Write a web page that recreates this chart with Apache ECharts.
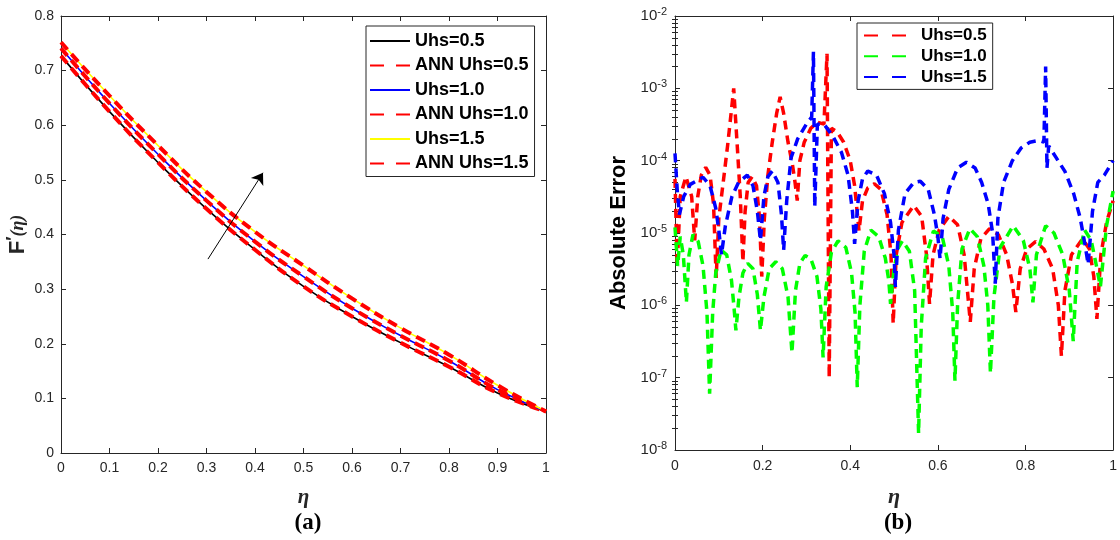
<!DOCTYPE html>
<html>
<head>
<meta charset="utf-8">
<script src="https://cdn.jsdelivr.net/npm/echarts@6/dist/echarts.min.js"></script>
<style>
html,body{margin:0;padding:0;background:#fff;}
#chart{width:1120px;height:540px;}
</style>
</head>
<body>
<div id="chart"></div>
<script>
// ---------- Panel (a): F'(eta) ----------
const etaA = [0, 0.1, 0.2, 0.3, 0.4, 0.5, 0.6, 0.7, 0.8, 0.9, 1.0];
const fUhs05 = [0.727, 0.625, 0.532, 0.447, 0.372, 0.305, 0.250, 0.202, 0.158, 0.110, 0.076];
const annUhs05 = [0.727, 0.625, 0.532, 0.447, 0.372, 0.305, 0.250, 0.202, 0.158, 0.110, 0.076];
const fUhs10 = [0.741, 0.640, 0.547, 0.462, 0.387, 0.323, 0.265, 0.215, 0.169, 0.116, 0.076];
const annUhs10 = [0.741, 0.640, 0.547, 0.462, 0.387, 0.323, 0.265, 0.215, 0.169, 0.116, 0.076];
const fUhs15 = [0.752, 0.654, 0.563, 0.478, 0.405, 0.343, 0.283, 0.229, 0.180, 0.124, 0.076];
const annUhs15 = [0.752, 0.654, 0.563, 0.478, 0.405, 0.343, 0.283, 0.229, 0.180, 0.124, 0.076];
const arrowFrom = [0.303, 0.355];
const arrowTo = [0.4165, 0.513];

// ---------- Panel (b): absolute error ----------
const etaRed = [0, 0.005, 0.012, 0.025, 0.038, 0.045, 0.052, 0.06, 0.07, 0.08, 0.088, 0.094,
  0.1, 0.11, 0.12, 0.128, 0.134, 0.138, 0.143, 0.149, 0.155,
  0.16, 0.167, 0.176, 0.186, 0.193, 0.198,
  0.204, 0.212, 0.222, 0.232, 0.24, 0.248, 0.258, 0.268, 0.274, 0.279,
  0.285, 0.295, 0.31, 0.325, 0.34, 0.347, 0.352, 0.357, 0.37, 0.385, 0.4, 0.41, 0.42,
  0.428, 0.44, 0.455, 0.47, 0.484, 0.493, 0.498,
  0.505, 0.518, 0.545, 0.563, 0.574, 0.581,
  0.589, 0.603, 0.625, 0.645, 0.66, 0.674,
  0.683, 0.698, 0.718, 0.738, 0.757, 0.77, 0.778,
  0.788, 0.803, 0.823, 0.842, 0.862, 0.875, 0.882,
  0.89, 0.905, 0.93, 0.946, 0.956, 0.963,
  0.972, 0.985, 1.0];
const errRed = [5.6e-5, 3.5e-6, 3.2e-5, 6.0e-5, 3.2e-5, 7.9e-6, 3.2e-5, 6.3e-5, 8.1e-5, 6.3e-5, 2.5e-5, 2.4e-6,
  1.6e-5, 5.0e-5, 1.6e-4, 4.5e-4, 1.0e-3, 4.0e-4, 1.3e-4, 3.2e-5, 4.0e-6,
  2.0e-5, 5.0e-5, 6.0e-5, 4.5e-5, 1.6e-5, 2.5e-6,
  1.6e-5, 6.3e-5, 1.8e-4, 4.5e-4, 7.6e-4, 4.5e-4, 1.8e-4, 8.9e-5, 5.0e-5, 2.8e-5,
  1.0e-4, 1.8e-4, 2.8e-4, 3.4e-4, 3.2e-4, 3.0e-3, 1.0e-7, 2.8e-4, 2.5e-4, 1.8e-4, 1.0e-4, 4.5e-5, 1.07e-5,
  2.8e-5, 4.2e-5, 4.8e-5, 4.0e-5, 1.8e-5, 5.0e-6, 5.6e-7,
  5.0e-6, 1.4e-5, 2.4e-5, 1.7e-5, 5.0e-6, 1.05e-6,
  5.0e-6, 1.1e-5, 1.7e-5, 1.3e-5, 5.0e-6, 5.9e-7,
  3.2e-6, 8.3e-6, 1.15e-5, 9.5e-6, 5.0e-6, 2.0e-6, 8.1e-7,
  3.2e-6, 6.0e-6, 7.6e-6, 6.0e-6, 3.2e-6, 1.0e-6, 2.0e-7,
  1.6e-6, 5.0e-6, 8.3e-6, 6.0e-6, 2.5e-6, 6.5e-7,
  5.0e-6, 1.4e-5, 2.8e-5];

const etaGreen = [0, 0.006, 0.012, 0.019, 0.026, 0.032, 0.041, 0.053, 0.064, 0.073, 0.079,
  0.086, 0.093, 0.105, 0.118, 0.129, 0.135, 0.139,
  0.146, 0.155, 0.166, 0.178, 0.188, 0.195,
  0.203, 0.215, 0.23, 0.245, 0.258, 0.267,
  0.275, 0.285, 0.297, 0.31, 0.324, 0.333, 0.338,
  0.345, 0.357, 0.372, 0.39, 0.403, 0.411, 0.416,
  0.422, 0.432, 0.447, 0.465, 0.48, 0.488, 0.492,
  0.5, 0.51, 0.519, 0.535, 0.547, 0.556,
  0.562, 0.572, 0.59, 0.61, 0.625, 0.634, 0.639,
  0.645, 0.655, 0.673, 0.69, 0.705, 0.714, 0.72,
  0.728, 0.742, 0.772, 0.795, 0.81, 0.817,
  0.825, 0.846, 0.865, 0.885, 0.9, 0.909,
  0.918, 0.935, 0.95, 0.962, 0.971,
  0.985, 1.0];
const errGreen = [1.2e-5, 3.5e-6, 8.9e-6, 5.0e-6, 1.1e-6, 5.0e-6, 9.5e-6, 7.6e-6, 3.5e-6, 7.9e-7, 6.0e-8,
  7.9e-7, 2.8e-6, 5.8e-6, 5.0e-6, 2.2e-6, 8.9e-7, 4.5e-7,
  1.3e-6, 2.8e-6, 3.8e-6, 3.2e-6, 1.4e-6, 4.5e-7,
  1.3e-6, 3.2e-6, 4.0e-6, 3.2e-6, 1.3e-6, 2.2e-7,
  1.6e-6, 3.8e-6, 4.9e-6, 4.4e-6, 2.5e-6, 8.9e-7, 1.9e-7,
  1.8e-6, 5.4e-6, 7.8e-6, 6.3e-6, 2.8e-6, 7.9e-7, 7.4e-8,
  1.0e-6, 5.6e-6, 1.1e-5, 8.9e-6, 4.5e-6, 2.2e-6, 1.05e-6,
  3.2e-6, 6.3e-6, 7.8e-6, 5.6e-6, 1.6e-6, 1.7e-8,
  5.0e-7, 4.5e-6, 1.07e-5, 8.9e-6, 3.5e-6, 7.9e-7, 9.1e-8,
  1.0e-6, 6.0e-6, 1.15e-5, 8.9e-6, 3.5e-6, 1.0e-6, 1.15e-7,
  1.3e-6, 6.3e-6, 1.26e-5, 7.9e-6, 3.2e-6, 1.1e-6,
  5.0e-6, 1.26e-5, 1.0e-5, 5.0e-6, 1.6e-6, 3.2e-7,
  4.0e-6, 1.1e-5, 7.9e-6, 3.5e-6, 1.8e-6,
  1.26e-5, 3.8e-5];

const etaBlue = [0, 0.005, 0.01,
  0.02, 0.035, 0.064, 0.08, 0.093, 0.1, 0.106,
  0.115, 0.13, 0.145, 0.165, 0.178, 0.188, 0.195,
  0.203, 0.212, 0.222, 0.235, 0.243, 0.248,
  0.255, 0.265, 0.28, 0.3, 0.312, 0.316, 0.319, 0.325,
  0.34, 0.36, 0.38, 0.395, 0.405, 0.41,
  0.418, 0.428, 0.44, 0.46, 0.478, 0.492, 0.5, 0.503,
  0.51, 0.525, 0.545, 0.56, 0.578, 0.592, 0.6, 0.605,
  0.612, 0.625, 0.645, 0.665, 0.685, 0.7, 0.715, 0.725, 0.731,
  0.737, 0.75, 0.77, 0.79, 0.81, 0.83, 0.842, 0.846, 0.849, 0.853,
  0.87, 0.89, 0.91, 0.925, 0.937, 0.943,
  0.953, 0.965, 0.98, 1.0];
const errBlue = [1.26e-4, 4.0e-5, 1.8e-5,
  3.2e-5, 4.7e-5, 5.9e-5, 4.5e-5, 2.2e-5, 1.1e-5, 5.0e-6,
  1.26e-5, 3.2e-5, 5.0e-5, 6.3e-5, 4.5e-5, 2.0e-5, 7.9e-6,
  3.2e-5, 6.0e-5, 7.2e-5, 5.0e-5, 1.8e-5, 5.8e-6,
  2.8e-5, 1.1e-4, 2.0e-4, 3.2e-4, 4.0e-4, 3.2e-3, 2.3e-5, 3.2e-4,
  3.2e-4, 2.2e-4, 1.3e-4, 6.3e-5, 2.0e-5, 7.1e-6,
  2.8e-5, 5.6e-5, 7.2e-5, 6.3e-5, 3.5e-5, 1.4e-5, 5.0e-6, 1.8e-6,
  1.1e-5, 3.5e-5, 5.0e-5, 5.2e-5, 4.0e-5, 1.8e-5, 8.9e-6, 4.4e-6,
  1.6e-5, 4.0e-5, 7.9e-5, 9.5e-5, 7.9e-5, 5.0e-5, 2.5e-5, 1.0e-5, 2.0e-6,
  1.6e-5, 5.0e-5, 1.0e-4, 1.5e-4, 1.8e-4, 1.9e-4, 1.8e-4, 2.0e-3, 7.9e-5, 1.6e-4,
  1.1e-4, 7.1e-5, 3.5e-5, 1.6e-5, 6.3e-6, 3.7e-6,
  2.0e-5, 5.0e-5, 6.3e-5, 1.0e-4];

// ---------- helpers ----------
function pairs(xs, ys) { return xs.map((x, i) => [x, ys[i]]); }
const AX = '#262626';
const axisLine = { show: true, onZero: false, lineStyle: { color: AX, width: 1 } };
const tickIn = { show: true, inside: true, length: 5, lineStyle: { color: AX, width: 1 } };
const minorVals = [];
for (let e = -8; e < -2; e++) {
  for (let k = 2; k <= 9; k++) minorVals.push(k * Math.pow(10, e));
}

const chart = echarts.init(document.getElementById('chart'), null, { renderer: 'canvas' });

const option = {
  animation: false,
  backgroundColor: '#fff',
  grid: [
    { left: 61, right: 574, top: 16, bottom: 87 },
    { left: 675, right: 2, top: 16, bottom: 90 }
  ],
  xAxis: [
    { gridIndex: 0, type: 'value', min: 0, max: 1, interval: 0.1,
      axisLine: axisLine, axisTick: tickIn, splitLine: { show: false },
      axisLabel: { color: AX, fontSize: 14, fontFamily: 'Liberation Sans', margin: 8,
        formatter: v => String(+v.toFixed(1)) },
      name: 'η', nameLocation: 'middle', nameGap: 34,
      nameTextStyle: { fontFamily: 'Liberation Serif', fontStyle: 'italic', fontWeight: 'bold', fontSize: 21, color: AX } },
    { gridIndex: 0, type: 'value', min: 0, max: 1, interval: 0.1, position: 'top',
      axisLine: axisLine, axisTick: tickIn, axisLabel: { show: false }, splitLine: { show: false } },
    { gridIndex: 1, type: 'value', min: 0, max: 1, interval: 0.2,
      axisLine: axisLine, axisTick: tickIn, splitLine: { show: false },
      axisLabel: { color: AX, fontSize: 14, fontFamily: 'Liberation Sans', margin: 9,
        formatter: v => String(+v.toFixed(1)) },
      name: 'η', nameLocation: 'middle', nameGap: 36,
      nameTextStyle: { fontFamily: 'Liberation Serif', fontStyle: 'italic', fontWeight: 'bold', fontSize: 22, color: AX } },
    { gridIndex: 1, type: 'value', min: 0, max: 1, interval: 0.2, position: 'top',
      axisLine: axisLine, axisTick: tickIn, axisLabel: { show: false }, splitLine: { show: false } }
  ],
  yAxis: [
    { gridIndex: 0, type: 'value', min: 0, max: 0.8, interval: 0.1,
      axisLine: axisLine, axisTick: tickIn, splitLine: { show: false },
      axisLabel: { color: AX, fontSize: 14, fontFamily: 'Liberation Sans', margin: 7,
        formatter: v => String(+v.toFixed(1)) },
      name: '{f|F}{p|′}{e|(η)}', nameLocation: 'middle', nameGap: 30, nameRotate: 90,
      nameTextStyle: { color: AX, rich: {
        f: { fontFamily: 'Liberation Sans', fontWeight: 'bold', fontSize: 22, color: AX },
        p: { fontFamily: 'Liberation Sans', fontWeight: 'bold', fontSize: 18, color: AX, padding: [0, 0, 8, 0] },
        e: { fontFamily: 'Liberation Serif', fontStyle: 'italic', fontWeight: 'bold', fontSize: 18, color: AX }
      } } },
    { gridIndex: 0, type: 'value', min: 0, max: 0.8, interval: 0.1, position: 'right',
      axisLine: axisLine, axisTick: tickIn, axisLabel: { show: false }, splitLine: { show: false } },
    { gridIndex: 1, type: 'log', logBase: 10, min: 1e-8, max: 1e-2, interval: 1, splitNumber: 6,
      axisLine: axisLine, axisTick: tickIn, splitLine: { show: false },
      axisLabel: { margin: 8, color: AX,
        formatter: v => '{b|10}{s|' + Math.round(Math.log10(v)) + '}',
        rich: {
          b: { fontFamily: 'Liberation Sans', fontSize: 15, color: AX },
          s: { fontFamily: 'Liberation Sans', fontSize: 11, color: AX, padding: [0, 0, 8, 0] }
        } },
      name: 'Absolute Error', nameLocation: 'middle', nameGap: 45, nameRotate: 90,
      nameTextStyle: { fontFamily: 'Liberation Sans', fontWeight: 'bold', fontSize: 22, color: '#000' } },
    { gridIndex: 1, type: 'log', logBase: 10, min: 1e-8, max: 1e-2, interval: 1, splitNumber: 6, position: 'right',
      axisLine: axisLine, axisTick: tickIn, axisLabel: { show: false }, splitLine: { show: false } },
    { gridIndex: 1, type: 'log', logBase: 10, min: 1e-8, max: 1e-2, position: 'left',
      axisLine: { show: false }, axisLabel: { show: false }, splitLine: { show: false },
      axisTick: { show: true, inside: true, length: 3, customValues: minorVals, lineStyle: { color: AX, width: 1 } } },
    { gridIndex: 1, type: 'log', logBase: 10, min: 1e-8, max: 1e-2, position: 'right',
      axisLine: { show: false }, axisLabel: { show: false }, splitLine: { show: false },
      axisTick: { show: true, inside: true, length: 3, customValues: minorVals, lineStyle: { color: AX, width: 1 } } }
  ],
  legend: [
    { orient: 'vertical', left: 366, top: 26, padding: [6, 6, 4, 3],
      itemWidth: 40, itemHeight: 14, itemGap: 6.5, selectedMode: false,
      backgroundColor: '#fff', borderColor: AX, borderWidth: 1, borderRadius: 0,
      itemStyle: { opacity: 0 },
      textStyle: { fontFamily: 'Liberation Sans', fontWeight: 'bold', fontSize: 18, color: '#000', lineHeight: 18 },
      data: [
        { name: 'Uhs=0.5' },
        { name: 'ANN Uhs=0.5', lineStyle: { type: [14, 12] } },
        { name: 'Uhs=1.0' },
        { name: 'ANN Uhs=1.0', lineStyle: { type: [14, 12] } },
        { name: 'Uhs=1.5' },
        { name: 'ANN Uhs=1.5', lineStyle: { type: [14, 12] } }
      ] },
    { orient: 'vertical', left: 857, top: 23, padding: [4, 6, 4, 6],
      itemWidth: 42, itemHeight: 12, itemGap: 3.7, selectedMode: false,
      backgroundColor: '#fff', borderColor: AX, borderWidth: 1, borderRadius: 0,
      itemStyle: { opacity: 0 },
      formatter: n => n.replace(' (b)', ''),
      textStyle: { fontFamily: 'Liberation Sans', fontWeight: 'bold', fontSize: 17, color: '#000', lineHeight: 15, padding: [0, 0, 0, 10] },
      data: [
        { name: 'Uhs=0.5 (b)', lineStyle: { type: [14, 14] } },
        { name: 'Uhs=1.0 (b)', lineStyle: { type: [14, 14] } },
        { name: 'Uhs=1.5 (b)', lineStyle: { type: [14, 14] } }
      ] }
  ],
  series: [
    { name: 'Uhs=0.5', type: 'line', xAxisIndex: 0, yAxisIndex: 0, data: pairs(etaA, fUhs05),
      smooth: true, symbol: 'none', lineStyle: { color: '#000', width: 1.6 }, itemStyle: { color: '#000' },
      markLine: { silent: true, symbol: ['none', 'arrow'], symbolSize: 11, animation: false,
        lineStyle: { color: '#000', width: 1, type: 'solid' }, label: { show: false },
        data: [[{ coord: arrowFrom }, { coord: arrowTo }]] } },
    { name: 'ANN Uhs=0.5', type: 'line', xAxisIndex: 0, yAxisIndex: 0, data: pairs(etaA, annUhs05),
      smooth: true, symbol: 'none', lineStyle: { color: '#ff0000', width: 4, type: [10, 6] }, itemStyle: { color: '#ff0000' } },
    { name: 'Uhs=1.0', type: 'line', xAxisIndex: 0, yAxisIndex: 0, data: pairs(etaA, fUhs10),
      smooth: true, symbol: 'none', lineStyle: { color: '#0000ff', width: 1.6 }, itemStyle: { color: '#0000ff' } },
    { name: 'ANN Uhs=1.0', type: 'line', xAxisIndex: 0, yAxisIndex: 0, data: pairs(etaA, annUhs10),
      smooth: true, symbol: 'none', lineStyle: { color: '#ff0000', width: 4, type: [10, 6] }, itemStyle: { color: '#ff0000' } },
    { name: 'Uhs=1.5', type: 'line', xAxisIndex: 0, yAxisIndex: 0, data: pairs(etaA, fUhs15),
      smooth: true, symbol: 'none', lineStyle: { color: '#ffff00', width: 1.6 }, itemStyle: { color: '#ffff00' } },
    { name: 'ANN Uhs=1.5', type: 'line', xAxisIndex: 0, yAxisIndex: 0, data: pairs(etaA, annUhs15),
      smooth: true, symbol: 'none', lineStyle: { color: '#ff0000', width: 4, type: [10, 6] }, itemStyle: { color: '#ff0000' } },

    { name: 'Uhs=0.5 (b)', type: 'line', xAxisIndex: 2, yAxisIndex: 2, data: pairs(etaRed, errRed),
      symbol: 'none', lineStyle: { color: '#ff0000', width: 3.5, type: [9, 6] }, itemStyle: { color: '#ff0000' } },
    { name: 'Uhs=1.0 (b)', type: 'line', xAxisIndex: 2, yAxisIndex: 2, data: pairs(etaGreen, errGreen),
      symbol: 'none', lineStyle: { color: '#00ff00', width: 3.5, type: [9, 6] }, itemStyle: { color: '#00ff00' } },
    { name: 'Uhs=1.5 (b)', type: 'line', xAxisIndex: 2, yAxisIndex: 2, data: pairs(etaBlue, errBlue),
      symbol: 'none', lineStyle: { color: '#0000ff', width: 3.5, type: [9, 6] }, itemStyle: { color: '#0000ff' } }
  ],
  graphic: [
    { type: 'text', x: 308, y: 523, style: { text: '(a)', fontFamily: 'Liberation Serif', fontWeight: 'bold', fontSize: 23, fill: '#000', align: 'center', verticalAlign: 'middle' } },
    { type: 'text', x: 898, y: 523, style: { text: '(b)', fontFamily: 'Liberation Serif', fontWeight: 'bold', fontSize: 23, fill: '#000', align: 'center', verticalAlign: 'middle' } }
  ]
};
chart.setOption(option);
</script>
</body>
</html>
